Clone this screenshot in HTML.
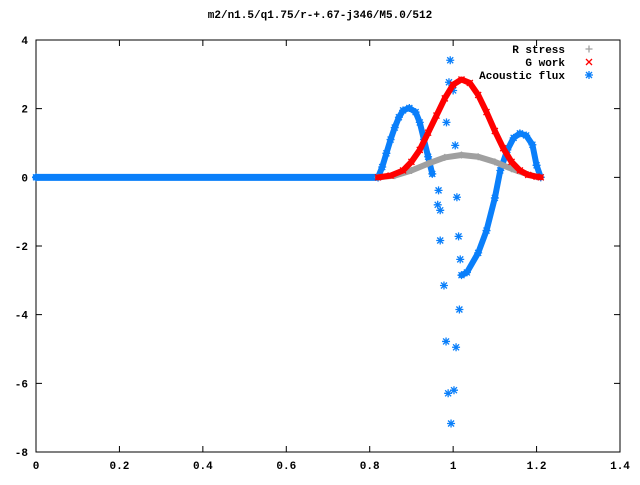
<!DOCTYPE html>
<html><head><meta charset="utf-8"><style>
body{margin:0;background:#fff}
svg text{font-family:"Liberation Mono",monospace;font-size:11px;font-weight:bold;fill:#000}
</style></head><body>
<svg id="chart" width="640" height="480" viewBox="0 0 640 480" xmlns="http://www.w3.org/2000/svg">
<rect width="640" height="480" fill="#fff"/>
<text x="320" y="18" text-anchor="middle">m2/n1.5/q1.75/r-+.67-j346/M5.0/512</text>
<g id="axes"></g>
<g id="plot"></g>
<g id="legend"></g>
</svg>
<script>
const xTicks=[0,0.2,0.4,0.6,0.8,1,1.2,1.4];
const xTickLabels=["0","0.2","0.4","0.6","0.8","1","1.2","1.4"];
const yTicks=[4,2,0,-2,-4,-6,-8];
const yTickLabels=["4","2","0","-2","-4","-6","-8"];
const seriesNames=["R stress","G work","Acoustic flux"];
const stressX=[0.82,0.86,0.9,0.94,0.98,1.02,1.06,1.1,1.14,1.18,1.2];
const stressY=[0,0.05,0.2,0.4,0.58,0.65,0.6,0.45,0.25,0.08,0.02];
const workX=[0.82,0.85,0.88,0.9,0.92,0.94,0.96,0.98,1.0,1.02,1.04,1.06,1.08,1.1,1.12,1.14,1.16,1.18,1.2,1.21];
const workY=[0,0.05,0.2,0.45,0.8,1.3,1.8,2.3,2.7,2.85,2.75,2.4,1.9,1.35,0.85,0.45,0.2,0.07,0.02,0];
const fluxLeftX=[0.82,0.83,0.84,0.85,0.86,0.87,0.88,0.895,0.91,0.92,0.93,0.94,0.95];
const fluxLeftY=[0,0.3,0.7,1.1,1.45,1.75,1.95,2.02,1.9,1.6,1.1,0.6,0.1];
const fluxRightX=[1.02,1.033,1.06,1.08,1.1,1.113,1.13,1.145,1.16,1.175,1.19,1.2,1.21];
const fluxRightY=[-2.85,-2.77,-2.2,-1.55,-0.6,0.2,0.8,1.15,1.28,1.22,0.95,0.35,0];
const fluxScatterX=[0.993,0.99,1.0,0.984,1.005,0.965,0.963,0.969,1.009,0.969,1.013,0.978,1.017,1.015,0.983,1.007,0.988,1.002,0.995];
const fluxScatterY=[3.41,2.77,2.53,1.6,0.93,-0.38,-0.8,-0.96,-0.58,-1.84,-1.72,-3.15,-2.39,-3.85,-4.78,-4.95,-6.29,-6.2,-7.17];
const flatX=[0,0.82];
const flatY=[0,0];

const L=36,R=620,T=40,B=452;
const sx=v=>L+(v-0)/(1.4-0)*(R-L);
const sy=v=>T+(4-v)/(4-(-8))*(B-T);
const NS="http://www.w3.org/2000/svg";
function mk(tag,attrs,parent){const e=document.createElementNS(NS,tag);for(const k in attrs)e.setAttribute(k,attrs[k]);parent.appendChild(e);return e;}
const axes=document.getElementById('axes'),plot=document.getElementById('plot'),leg=document.getElementById('legend');
const frame=mk('rect',{x:L,y:T,width:R-L,height:B-T,fill:'none',stroke:'#000','stroke-width':1},axes);


xTicks.forEach((v,i)=>{const x=sx(v);
 const t=mk('path',{d:`M${x},${B}v-6M${x},${T}v6`,stroke:'#000'},axes);
 
 
 const l=mk('text',{x:x,y:B+17,'text-anchor':'middle'},axes);l.textContent=xTickLabels[i];
 
 });
yTicks.forEach((v,i)=>{const y=sy(v);
 const t=mk('path',{d:`M${L},${y}h6M${R},${y}h-6`,stroke:'#000'},axes);
 
 
 const l=mk('text',{x:L-8,y:y+4,'text-anchor':'end'},axes);l.textContent=yTickLabels[i];
 
 });
function marker(type,x,y,color,parent){let d;
 if(type==='plus')d=`M${x-3.5},${y}h7M${x},${y-3.5}v7`;
 else if(type==='cross')d=`M${x-3},${y-3}l6,6M${x-3},${y+3}l6,-6`;
 else d=`M${x-4},${y}h8M${x},${y-4}v8M${x-3},${y-3}l6,6M${x-3},${y+3}l6,-6`;
 return mk('path',{d:d,stroke:color,'stroke-width':1.3,fill:'none'},parent);}
function series(xs,ys,color,type,name,line,w){
 const g=mk('g',{},plot);
 
 
 if(line){const p=mk('polyline',{points:xs.map((v,i)=>sx(v)+','+sy(ys[i])).join(' '),fill:'none',stroke:color,'stroke-width':w,'stroke-linejoin':'round','stroke-linecap':'round'},g);
  
  }
 xs.forEach((v,i)=>{const m=marker(type,sx(v),sy(ys[i]),color,g);
  
  });}
const blue='#0a7ffa',red='#ff0000',gray='#a0a0a0';
series(flatX,flatY,blue,'star','flux-baseline',true,7);
series(fluxLeftX,fluxLeftY,blue,'star','flux-left-hump',true,6);
series(fluxRightX,fluxRightY,blue,'star','flux-right-curve',true,6);
series(fluxScatterX,fluxScatterY,blue,'star','flux-scatter',false,0);
series(stressX,stressY,gray,'plus','r-stress-series',true,6);
series(workX,workY,red,'cross','g-work-series',true,6);
const legColors=[gray,red,blue],legTypes=['plus','cross','star'];
seriesNames.forEach((n,i)=>{const y=49+i*13;
 const t=mk('text',{x:565,y:y+4,'text-anchor':'end'},leg);t.textContent=n;
 
 
 const m=marker(legTypes[i],589,y,legColors[i],leg);
 
 });
</script>
</body></html>
